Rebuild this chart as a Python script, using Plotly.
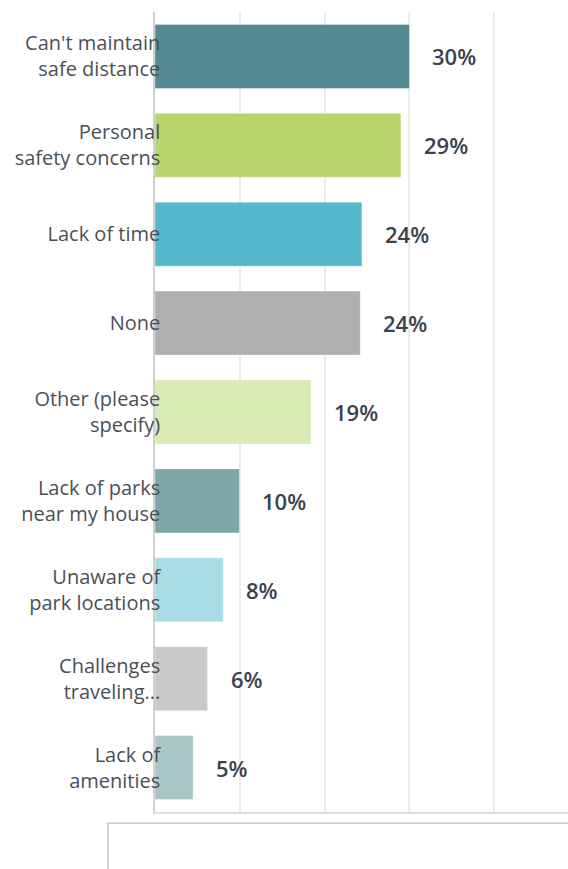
import plotly.graph_objects as go

categories = [
    "Can't maintain<br>safe distance",
    "Personal<br>safety concerns",
    "Lack of time",
    "None",
    "Other (please<br>specify)",
    "Lack of parks<br>near my house",
    "Unaware of<br>park locations",
    "Challenges<br>traveling...",
    "Lack of<br>amenities",
]
values = [30.0, 29.0, 24.4, 24.2, 18.4, 9.95, 8.05, 6.2, 4.5]
value_labels = ["30%", "29%", "24%", "24%", "19%", "10%", "8%", "6%", "5%"]
colors = ["#558a90", "#b8d66b", "#54b9cc", "#afafb1", "#d9eab4",
          "#7fa7aa", "#a9dde5", "#c9c9c9", "#aac5c8"]
x_ticks = [0, 10, 20, 30, 40]

fig = go.Figure()
fig.add_trace(go.Bar(
    x=values, y=categories, orientation="h",
    marker=dict(color=colors, line=dict(color="rgba(255,255,255,0.35)", width=1)),
    width=0.72, hoverinfo="skip",
))

for v, c, t in zip(values, categories, value_labels):
    fig.add_annotation(
        x=v, y=c, text=t, showarrow=False, xanchor="left", xshift=21,
        font=dict(family="Open Sans", size=22, color="#3a424b", weight=600),
    )

# frame of the next (cut off) panel below the chart
fig.add_shape(type="rect", xref="paper", yref="paper",
              x0=(108 - 155) / 413, x1=1.2, y0=-0.014, y1=-0.3,
              line=dict(color="#c9c9c9", width=1.5), fillcolor="rgba(0,0,0,0)")

fig.update_layout(
    width=568, height=869,
    margin=dict(l=155, r=0, t=12, b=57),
    plot_bgcolor="white", paper_bgcolor="white",
    showlegend=False,
    font=dict(family="Open Sans", color="#4b5057"),
    xaxis=dict(
        range=[0, 48.7], tickvals=x_ticks, showticklabels=False,
        showgrid=True, gridcolor="#ececec", gridwidth=1.5,
        zeroline=False, showline=True, linecolor="#dcdcdc", linewidth=2,
        ticks="", fixedrange=True,
    ),
    yaxis=dict(
        autorange="reversed", showgrid=False, zeroline=False,
        showline=True, linecolor="#d0d0d0", linewidth=1.5,
        ticks="", ticklabelstandoff=-11,
        tickfont=dict(family="Open Sans", size=20, color="#4b5057"),
        fixedrange=True,
    ),
)

fig.write_html(
    "out.html",
    config={"displayModeBar": False},
    post_script="document.body.style.margin='0';document.body.style.overflow='hidden';",
)
